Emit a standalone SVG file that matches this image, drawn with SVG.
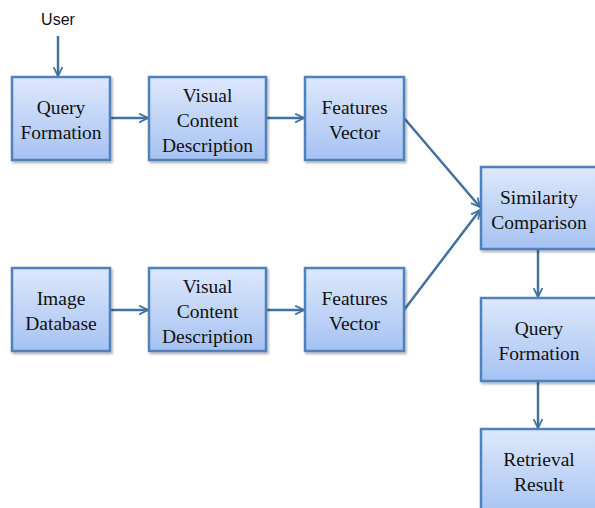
<svg xmlns="http://www.w3.org/2000/svg" width="595" height="508" viewBox="0 0 595 508">
<defs>
<linearGradient id="g" x1="0" y1="0" x2="0" y2="1">
<stop offset="0" stop-color="#dde8fc"/>
<stop offset="1" stop-color="#a6c2f2"/>
</linearGradient>
<filter id="sh" x="-10%" y="-10%" width="130%" height="130%">
<feDropShadow dx="1.5" dy="2" stdDeviation="1.2" flood-color="#000" flood-opacity="0.3"/>
</filter>
<marker id="ah" viewBox="0 0 10 10" refX="9" refY="5" markerWidth="4.4" markerHeight="4.4" orient="auto" markerUnits="strokeWidth">
<path d="M1,1 L9,5 L1,9" fill="none" stroke="#41719c" stroke-width="1.6"/>
</marker>
</defs>
<style>
.b{fill:url(#g);stroke:#4f81bd;stroke-width:2.5;filter:url(#sh)}
.t{font-family:'Liberation Serif','DejaVu Serif',serif;font-size:19.5px;fill:#111;text-anchor:middle}
.c{fill:none;stroke:#41719c;stroke-width:2.5;marker-end:url(#ah)}
</style>
<rect width="595" height="508" fill="#fff"/>
<text x="58" y="25" font-family="'Liberation Sans', Arial, sans-serif" font-size="16" fill="#111" text-anchor="middle">User</text>
<g id="connectors">
<line class="c" x1="58" y1="36" x2="58" y2="76"/>
<line class="c" x1="110" y1="118" x2="148" y2="118"/>
<line class="c" x1="266" y1="118" x2="304" y2="118"/>
<line class="c" x1="404" y1="118" x2="480" y2="207"/>
<line class="c" x1="110" y1="310" x2="148" y2="310"/>
<line class="c" x1="266" y1="310" x2="304" y2="310"/>
<line class="c" x1="404" y1="310" x2="480" y2="210"/>
<line class="c" x1="538" y1="249" x2="538" y2="297"/>
<line class="c" x1="538" y1="381" x2="538" y2="428"/>
</g>
<g font-family="'Liberation Serif', 'DejaVu Serif', serif">
<g id="qf1"><rect class="b" x="12" y="77" width="98" height="83"/><text class="t" x="61" y="114">Query</text><text class="t" x="61" y="139">Formation</text></g>
<g id="vcd1"><rect class="b" x="149" y="77" width="117" height="83"/><text class="t" x="207.5" y="102">Visual</text><text class="t" x="207.5" y="127">Content</text><text class="t" x="207.5" y="152">Description</text></g>
<g id="fv1"><rect class="b" x="305" y="77" width="99" height="83"/><text class="t" x="354.5" y="114">Features</text><text class="t" x="354.5" y="139">Vector</text></g>
<g id="idb"><rect class="b" x="12" y="268" width="98" height="83"/><text class="t" x="61" y="305">Image</text><text class="t" x="61" y="330">Database</text></g>
<g id="vcd2"><rect class="b" x="149" y="268" width="117" height="83"/><text class="t" x="207.5" y="293">Visual</text><text class="t" x="207.5" y="318">Content</text><text class="t" x="207.5" y="343">Description</text></g>
<g id="fv2"><rect class="b" x="305" y="268" width="99" height="83"/><text class="t" x="354.5" y="305">Features</text><text class="t" x="354.5" y="330">Vector</text></g>
<g id="sc"><rect class="b" x="481" y="167" width="120" height="82"/><text class="t" x="539" y="204">Similarity</text><text class="t" x="539" y="229">Comparison</text></g>
<g id="qf2"><rect class="b" x="481" y="298" width="120" height="83"/><text class="t" x="539" y="335">Query</text><text class="t" x="539" y="360">Formation</text></g>
<g id="rr"><rect class="b" x="481" y="429" width="120" height="90"/><text class="t" x="539" y="466">Retrieval</text><text class="t" x="539" y="491">Result</text></g>
</g>
</svg>
